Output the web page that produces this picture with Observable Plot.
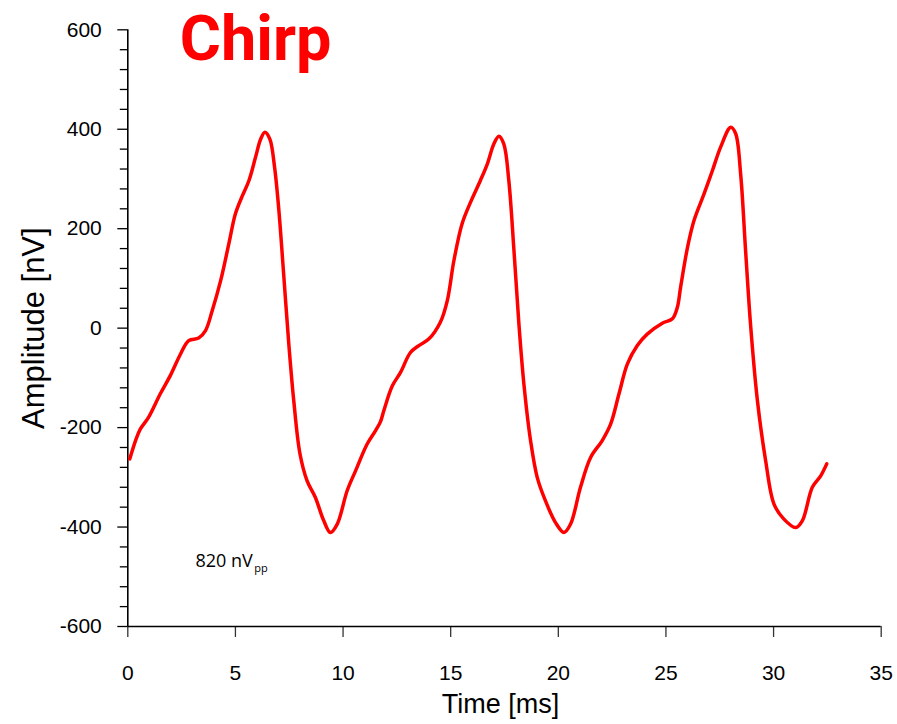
<!DOCTYPE html>
<html><head><meta charset="utf-8">
<script src="https://cdn.jsdelivr.net/npm/d3@7"></script>
<script src="https://cdn.jsdelivr.net/npm/@observablehq/plot@0.6"></script>
<style>body{margin:0;background:#fff}</style>
</head><body><div id="chart"></div>
<script>
const timeMs = [0.09,0.36,0.58,0.97,1.51,1.98,2.45,2.83,3.29,3.61,3.92,4.31,4.69,5.0,5.32,5.63,5.93,6.17,6.37,6.6,6.82,7.02,7.24,7.48,7.71,8.0,8.33,8.71,9.1,9.41,9.73,10.19,10.58,11.12,11.51,11.74,11.9,12.29,12.67,13.13,13.52,13.98,14.52,14.84,15.15,15.53,15.92,16.38,16.7,17.0,17.24,17.47,17.7,17.94,18.17,18.4,18.71,19.02,19.4,19.87,20.26,20.57,21.03,21.5,22.04,22.43,22.82,23.21,23.67,24.13,24.83,25.3,25.53,25.68,26.0,26.3,26.77,27.16,27.54,28.01,28.24,28.47,28.7,28.94,29.25,29.63,30.02,30.48,31.03,31.34,31.8,32.19,32.47];
const amplitudeNv = [-263,-226,-203,-179,-132,-95,-52,-25,-20,-5,35,95,169,230,266,297,343,380,394,380,323,236,109,-32,-146,-253,-307,-340,-387,-411,-394,-327,-287,-233,-206,-188,-165,-116,-89,-49,-35,-22,12,55,136,210,253,297,330,370,386,370,297,156,8,-112,-226,-300,-347,-391,-411,-394,-320,-260,-226,-193,-132,-72,-35,-12,10,19,42,82,162,216,270,317,364,404,391,310,156,2,-146,-266,-354,-384,-401,-387,-320,-297,-273];
const xTicks = [0,5,10,15,20,25,30,35];
const yTicks = [-600,-400,-200,0,200,400,600];
const yMinorTicks = [-560,-520,-480,-440,-360,-320,-280,-240,-160,-120,-80,-40,40,80,120,160,240,280,320,360,440,480,520,560];
const titleText = ["Chirp"];
const noteMain = ["820 nV"];
const noteSub = ["pp"];
const xLabel = ["Time [ms]"];
const yLabel = ["Amplitude [nV]"];

const data = timeMs.map((t, i) => ({t, a: amplitudeNv[i]}));

const chart = Plot.plot({
  width: 897, height: 724,
  marginLeft: 127.3, marginRight: 16.3, marginTop: 29.3, marginBottom: 98,
  style: {fontFamily: "'Liberation Sans', Arial, sans-serif", fontSize: "21px", color: "#000", background: "#fff"},
  x: {domain: [0, 35]},
  y: {domain: [-600, 600]},
  marks: [
    Plot.axisY({ticks: yMinorTicks, tickSize: 7.5, tickFormat: () => "", label: null, strokeWidth: 1.3, stroke: "#000"}),
    Plot.axisY({ticks: yTicks, tickSize: 10, tickPadding: 16, tickFormat: d => String(d), label: null, strokeWidth: 1.3, stroke: "#000", fill: "#000"}),
    Plot.axisX({ticks: xTicks, tickSize: 11, tickPadding: 28, tickFormat: d => String(d), label: null, strokeWidth: 1.3, stroke: "#333", fill: "#000"}),
    Plot.ruleX([0], {y1: -600, y2: 600, stroke: "#000", strokeWidth: 1.6}),
    Plot.ruleY([-600], {x1: 0, x2: 35, stroke: "#000", strokeWidth: 1.6}),
    Plot.line(data, {x: "t", y: "a", stroke: "#ff0000", strokeWidth: 3.5, curve: "catmull-rom"}),
    Plot.text(titleText, {text: d => d, frameAnchor: "top-left", dx: 52, dy: 10.5, fill: "#ff0000", fontSize: 63, fontWeight: "bold", fontFamily: "Roboto", textAnchor: "start", lineAnchor: "middle"}),
    Plot.text(noteMain, {text: d => d, frameAnchor: "bottom-left", dx: 67.7, dy: -65, fill: "#000", fontSize: 18, fontFamily: "'Open Sans'", textAnchor: "start", lineAnchor: "middle"}),
    Plot.text(noteSub, {text: d => d, frameAnchor: "bottom-left", dx: 126.5, dy: -58, fill: "#000", fontSize: 11, fontFamily: "'Open Sans'", textAnchor: "start", lineAnchor: "middle"}),
    Plot.text(xLabel, {text: d => d, frameAnchor: "bottom", dx: -4, dy: 78, fill: "#000", fontSize: 27, textAnchor: "middle", lineAnchor: "middle"}),
    Plot.text(yLabel, {text: d => d, frameAnchor: "left", dx: -94, rotate: -90, fill: "#000", fontSize: 31, textAnchor: "middle", lineAnchor: "middle"})
  ]
});
document.getElementById("chart").appendChild(chart);
</script>
</body></html>
